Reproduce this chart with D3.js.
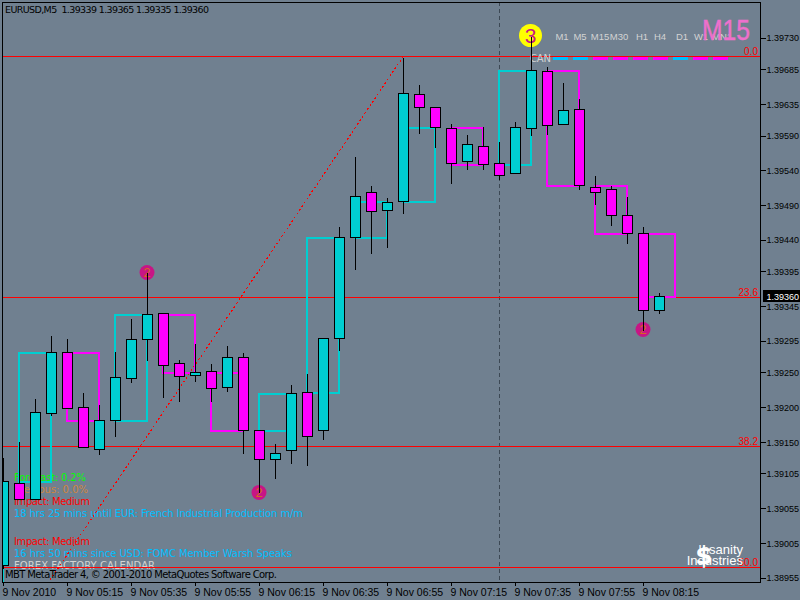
<!DOCTYPE html>
<html><head><meta charset="utf-8">
<script src="https://cdn.jsdelivr.net/npm/d3@7"></script>
<style>
html,body{margin:0;padding:0;background:#708090;overflow:hidden}
svg{display:block}
text{font-family:"DejaVu Sans",sans-serif;font-size:9.5px}
</style></head><body>
<script>
// ---- Data -------------------------------------------------------------
const opens=[1.38974,1.39091,1.39068,1.39192,1.39279,1.39200,1.39140,1.39182,1.39242,1.39298,1.39335,1.39264,1.39246,1.39252,1.39229,1.39272,1.39167,1.39126,1.39139,1.39222,1.39167,1.39299,1.39444,1.39509,1.39483,1.39496,1.39650,1.39631,1.39601,1.39553,1.39575,1.39551,1.39536,1.39601,1.39683,1.39607,1.39628,1.39516,1.39513,1.39476,1.39450,1.39339];
const highs=[1.39129,1.39152,1.39213,1.39304,1.39299,1.39222,1.39205,1.39281,1.39328,1.39394,1.39335,1.39269,1.39292,1.39264,1.39289,1.39279,1.39167,1.39149,1.39233,1.39249,1.39299,1.39460,1.39561,1.39519,1.39502,1.39703,1.39664,1.39631,1.39608,1.39592,1.39604,1.39582,1.39611,1.39733,1.39690,1.39667,1.39644,1.39533,1.39519,1.39503,1.39460,1.39365];
const lows=[1.38969,1.39068,1.39068,1.39189,1.39199,1.39143,1.39133,1.39159,1.39236,1.39268,1.39215,1.39209,1.39238,1.39209,1.39223,1.39134,1.39078,1.39099,1.39120,1.39117,1.39154,1.39282,1.39398,1.39421,1.39430,1.39479,1.39594,1.39574,1.39522,1.39542,1.39542,1.39528,1.39536,1.39591,1.39592,1.39607,1.39513,1.39492,1.39462,1.39436,1.39311,1.39335];
const closes=[1.39094,1.39068,1.39193,1.39279,1.39199,1.39143,1.39182,1.39243,1.39298,1.39334,1.39261,1.39245,1.39251,1.39228,1.39272,1.39167,1.39126,1.39134,1.39220,1.39159,1.39299,1.39444,1.39503,1.39482,1.39495,1.39651,1.39631,1.39602,1.39551,1.39578,1.39549,1.39533,1.39602,1.39684,1.39605,1.39627,1.39519,1.39509,1.39476,1.39450,1.39340,1.39360];
// M15 boxes
const boxStart=[-2,1,4,7,10,13,16,19,22,25,28,31,34,37,40];
const boxEnd=[0,3,6,9,12,15,18,21,24,27,30,33,36,39,42];
const boxOpen=[1.38900,1.39094,1.39279,1.39182,1.39334,1.39251,1.39167,1.39222,1.39444,1.39496,1.39602,1.39549,1.39684,1.39519,1.39450];
const boxClose=[1.39094,1.39279,1.39182,1.39334,1.39251,1.39167,1.39220,1.39444,1.39496,1.39602,1.39549,1.39684,1.39519,1.39450,1.39360];
const fibLabels=["0.0","23.6","38.2","50.0"];
const fibPrices=[1.39704,1.39358,1.39145,1.38971];
const trendIdx=[25,2.94];
const trendPrice=[1.39704,1.38952];
const priceTicks=[1.39730,1.39685,1.39635,1.39590,1.39540,1.39490,1.39440,1.39395,1.39345,1.39295,1.39250,1.39200,1.39150,1.39105,1.39055,1.39005,1.38955];
const timeTickIdx=[0,4,8,12,16,20,24,28,32,36,40];
const timeLabels=["9 Nov 2010","9 Nov 05:15","9 Nov 05:35","9 Nov 05:55","9 Nov 06:15","9 Nov 06:35","9 Nov 06:55","9 Nov 07:15","9 Nov 07:35","9 Nov 07:55","9 Nov 08:15"];
const eventIdx=[9,16,40];
const eventPrice=[1.39394,1.39079,1.39312];
const eventNum=["2","2","2"];
const periods=["M1","M5","M15","M30","H1","H4","D1","W1","MN1"];
const periodSignal=["b","b","m","m","m","m","b","m","m"];
const newsLines=[
 ["Forecast: 0.2%","#00ff00",477,72],
 ["Previous: 0.0%","#cd853f",489,74],
 ["Impact: Medium","#ff0000",501,76],
 ["18 hrs 25 mins until EUR: French Industrial Production m/m","#00bfff",513,289],
 ["Impact: Medium","#ff0000",541,76],
 ["16 hrs 50 mins since USD: FOMC Member Warsh Speaks","#00bfff",553,278],
 ["FOREX FACTORY CALENDAR","#d3d3d3",565,141]
];
const CYAN="#00ced1",MAG="#ff00ff";

// ---- Scales -----------------------------------------------------------
const svg=d3.select("body").append("svg").attr("width",800).attr("height",600);
const x=d3.scaleLinear().domain([0,47.3125]).range([3,760]);
const y=d3.scaleLinear().domain([1.38955,1.39730]).range([578,38]);
const X=v=>Math.round(x(v))+.5, Y=v=>Math.round(y(v))+.5;

svg.append("rect").attr("width",800).attr("height",600).attr("fill","#708090");
svg.append("defs").append("clipPath").attr("id","plot").append("rect")
   .attr("x",2.5).attr("y",2.5).attr("width",757.5).attr("height",579.5);
const plot=svg.append("g").attr("clip-path","url(#plot)");

// news text is under the bars
plot.append("g").selectAll("text").data(newsLines).join("text")
  .attr("x",14).attr("y",d=>d[2]+3.5).attr("fill",d=>d[1]).attr("textLength",d=>d[3])
  .attr("lengthAdjust","spacing").style("font-size","10px").text(d=>d[0]);

// separator
plot.append("line").attr("x1",X(31)).attr("x2",X(31)).attr("y1",2).attr("y2",582)
  .attr("stroke","#3c4854").attr("stroke-dasharray","4,3").attr("shape-rendering","crispEdges");

// fib levels
plot.append("g").selectAll("line").data(fibPrices).join("line")
  .attr("x1",2).attr("x2",760).attr("y1",d=>Y(d)).attr("y2",d=>Y(d))
  .attr("stroke","#ff0000").attr("stroke-width",1).attr("shape-rendering","crispEdges");
plot.append("line").attr("x1",x(trendIdx[0])+.5).attr("y1",y(trendPrice[0])).attr("x2",x(trendIdx[1])).attr("y2",y(trendPrice[1]))
  .attr("stroke","#ff0000").attr("stroke-width",1.1).attr("stroke-dasharray","2,2.5").attr("shape-rendering","crispEdges");

// M15 boxes
plot.append("g").selectAll("rect").data(boxStart).join("rect")
  .attr("x",(d)=>X(d)-1)
  .attr("y",(d,i)=>Math.min(Y(boxOpen[i]),Y(boxClose[i])))
  .attr("width",(d,i)=>X(boxEnd[i])-X(d))
  .attr("height",(d,i)=>Math.abs(Y(boxOpen[i])-Y(boxClose[i])))
  .attr("fill","none").attr("stroke-width",2)
  .attr("stroke",(d,i)=>boxClose[i]>=boxOpen[i]?CYAN:MAG).attr("shape-rendering","crispEdges");

// top panel
const px=[553,573,593,613,633,653,673,693,713];
const pc=[562,580,600,619,642,660,682,701,722];
plot.append("g").selectAll("rect").data(periodSignal).join("rect")
  .attr("x",(d,i)=>px[i]).attr("y",57).attr("width",15).attr("height",3)
  .attr("fill",d=>d=="b"?"#00bfff":MAG);
plot.append("g").selectAll("text").data(periods).join("text")
  .attr("x",(d,i)=>pc[i]).attr("y",40).attr("text-anchor","middle").attr("fill","#d3d3d3")
  .style("font-family","'Liberation Sans'").style("font-size","9.5px").text(d=>d);
plot.append("text").attr("x",530).attr("y",62).attr("fill","#d3d3d3").attr("textLength",21).style("font-size","10px").text("CAN");
plot.append("text").attr("x",702).attr("y",40).attr("fill","#ee70cc").attr("stroke","#ee70cc").attr("stroke-width",.4)
  .attr("textLength",48).attr("lengthAdjust","spacingAndGlyphs")
  .style("font-family","'Liberation Sans'").style("font-size","30px").text("M15");
plot.append("circle").attr("cx",530.5).attr("cy",35.5).attr("r",11.5).attr("fill","#ffff00");
plot.append("text").attr("x",530.5).attr("y",43).attr("text-anchor","middle").attr("fill","#c71585")
  .style("font-family","'Liberation Sans'").style("font-size","21px").text("3");

// event markers
const ev=plot.append("g").selectAll("g").data(eventIdx).join("g")
  .attr("transform",(d,i)=>`translate(${X(d)-.5},${Y(eventPrice[i])})`);
ev.append("circle").attr("r",7.5).attr("fill","#c71585");
ev.append("text").attr("y",4.5).attr("text-anchor","middle").attr("fill","#d2691e")
  .style("font-family","'Liberation Sans'").style("font-size","13px").text((d,i)=>eventNum[i]);

// candles
const cg=plot.append("g").attr("shape-rendering","crispEdges");
cg.selectAll("line").data(opens).join("line")
  .attr("x1",(d,i)=>X(i)).attr("x2",(d,i)=>X(i))
  .attr("y1",(d,i)=>Y(highs[i])).attr("y2",(d,i)=>Y(lows[i]))
  .attr("stroke","#000");
cg.selectAll("rect").data(opens).join("rect")
  .attr("x",(d,i)=>X(i)-5).attr("width",10)
  .attr("y",(d,i)=>Math.min(Y(d),Y(closes[i])))
  .attr("height",(d,i)=>Math.abs(Y(d)-Y(closes[i])))
  .attr("fill",(d,i)=>closes[i]>=d?CYAN:MAG).attr("stroke","#000");

// fib labels
plot.append("g").selectAll("text").data(fibLabels).join("text")
  .attr("x",758).attr("y",(d,i)=>Y(fibPrices[i])-(i==0?2:1.5)).attr("text-anchor","end")
  .attr("fill","#ff0000").style("font-family","'Liberation Sans'").style("font-size","10px").text(d=>d);

// logo
const logo=svg.append("g");
logo.append("text").attr("x",743).attr("y",554).attr("text-anchor","end").attr("fill","#fff")
  .style("font-family","'Liberation Sans'").style("font-size","13px").text("Insanity");
logo.append("text").attr("x",743).attr("y",565).attr("text-anchor","end").attr("fill","#fff")
  .style("font-family","'Liberation Sans'").style("font-size","13px").text("Industries");
logo.append("text").attr("x",704).attr("y",564).attr("text-anchor","middle").attr("fill","#fff")
  .style("font-family","'DejaVu Sans'").style("font-weight","bold").style("font-size","25px").text("$");

// copyright and header
svg.append("text").attr("x",5).attr("y",578).attr("fill","#000").attr("textLength",272).style("font-size","10px")
  .text("MBT MetaTrader 4, © 2001-2010 MetaQuotes Software Corp.");
svg.append("text").attr("x",5).attr("y",13).attr("fill","#000").attr("textLength",204).style("white-space","pre")
  .text("EURUSD,M5  1.39339 1.39365 1.39335 1.39360");

// frame
svg.append("rect").attr("x",2.5).attr("y",2.5).attr("width",758).attr("height",580)
  .attr("fill","none").attr("stroke","#000").attr("shape-rendering","crispEdges");

// axes
const ya=svg.append("g").attr("transform","translate(760.5,0)")
  .call(d3.axisRight(y).tickValues(priceTicks).tickFormat(d3.format(".5f")).tickSize(5).tickSizeOuter(0));
ya.select(".domain").remove();
ya.selectAll("line").attr("stroke","#000").attr("shape-rendering","crispEdges");
ya.selectAll("text").attr("x",6).attr("fill","#000")
  .style("font-family","'Liberation Sans'").style("font-size","9px");
const xa=svg.append("g").attr("transform","translate(0,582.5)")
  .call(d3.axisBottom(x).tickValues(timeTickIdx).tickFormat((d,i)=>timeLabels[i]).tickSize(3).tickSizeOuter(0));
xa.select(".domain").remove();
xa.selectAll("line").attr("stroke","#000").attr("shape-rendering","crispEdges");
xa.selectAll("text").attr("text-anchor","start").attr("x",-1).attr("y",6).attr("fill","#000")
  .style("font-family","'Liberation Sans'").style("font-size","10.5px");

// current price tag
svg.append("rect").attr("x",763).attr("y",290).attr("width",37).attr("height",12).attr("fill","#000");
svg.append("text").attr("x",766.5).attr("y",299.5).attr("fill","#fff")
  .style("font-family","'Liberation Sans'").style("font-size","9px")
  .text(d3.format(".5f")(closes[closes.length-1]));
</script>
</body></html>
